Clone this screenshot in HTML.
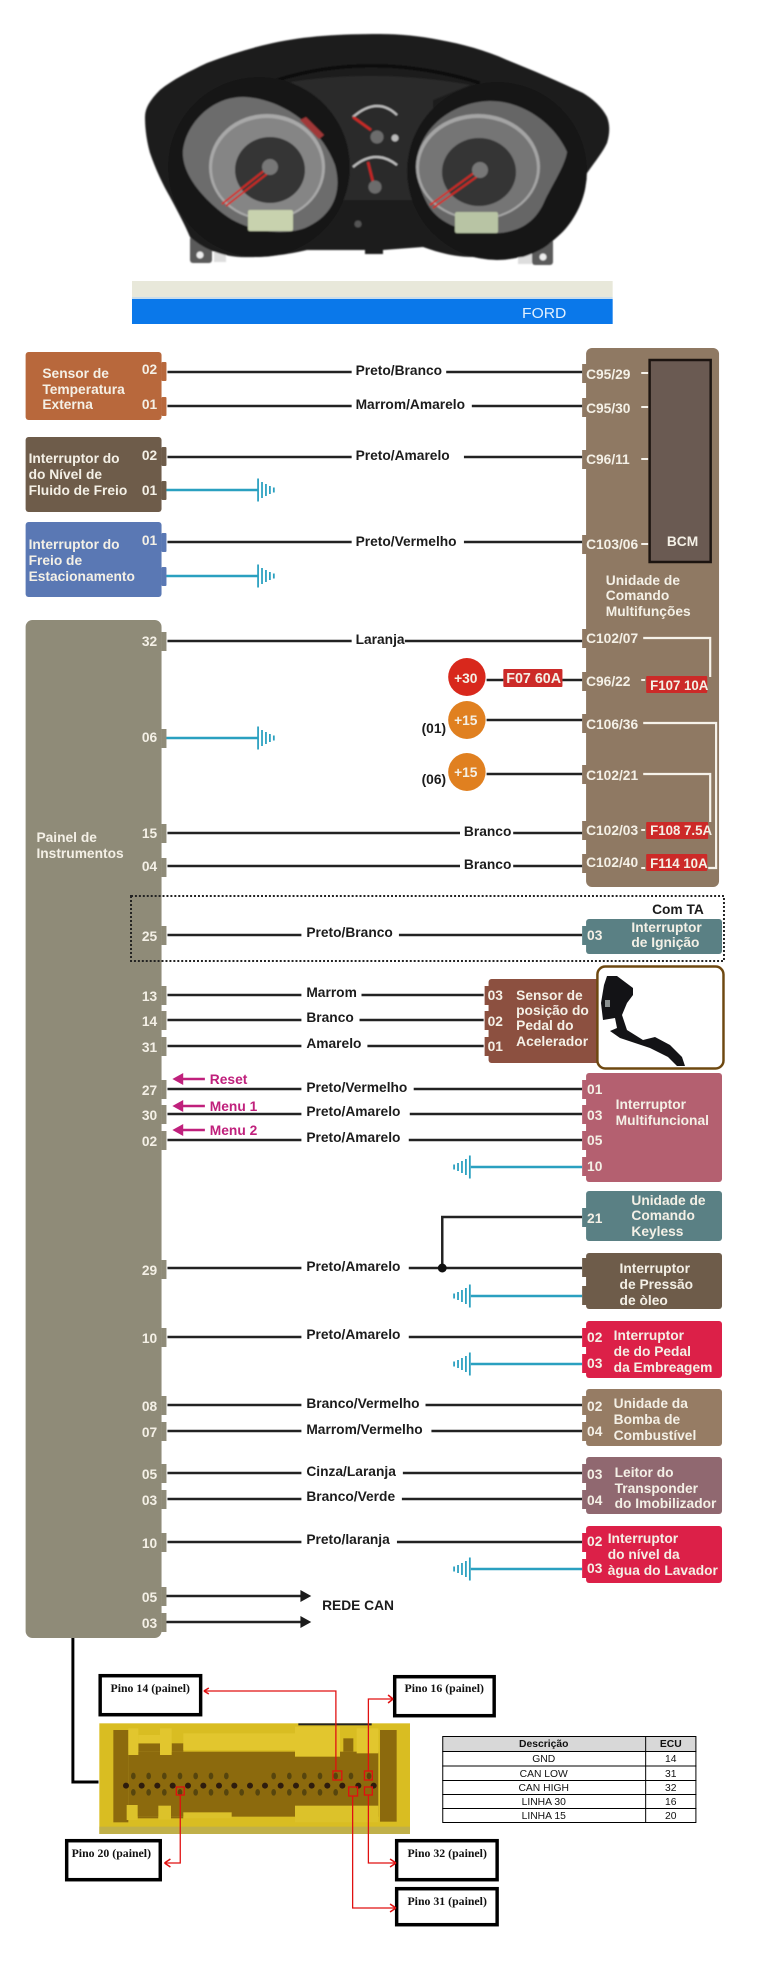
<!DOCTYPE html>
<html><head><meta charset="utf-8"><style>
html,body{margin:0;padding:0;background:#fff}
svg{display:block}
text{font-family:"Liberation Sans",sans-serif;font-weight:bold}
.l{font-size:14px;fill:#1c1c1c}
.w{font-size:14px;fill:#f4f0e6}
.m{font-size:14px;fill:#c0207c}
.s{font-family:"Liberation Serif",serif;font-size:12px;fill:#111;text-anchor:middle}
.t{font-size:10.5px;font-weight:normal;fill:#111;text-anchor:middle}
.wire{stroke:#222;stroke-width:2.5;fill:none}
.gw{stroke:#2aa0c0;stroke-width:2.5;fill:none}
.wh{stroke:#f6f2ea;stroke-width:2.2;fill:none}
.rd{stroke:#e01010;stroke-width:1.3;fill:none}
</style></head><body>
<svg width="760" height="1963" viewBox="0 0 760 1963" xmlns="http://www.w3.org/2000/svg">
<defs>
<filter id="b"><feGaussianBlur stdDeviation="0.7"/></filter>
<g id="gr"><path d="M0-11.5V11.5M4-8V8M8-6V6M12-4V4M16-2.5V2.5" stroke="#2aa0c0" stroke-width="1.8" fill="none"/></g>
<g id="gl"><path d="M0-11.5V11.5M-4-8V8M-8-6V6M-12-4V4M-16-2.5V2.5" stroke="#2aa0c0" stroke-width="1.8" fill="none"/></g>
</defs>
<rect width="760" height="1963" fill="#fff"/>

<!-- cluster (true coordinates) -->
<g filter="url(#b)">
<rect x="190" y="236" width="22" height="27" rx="3" fill="#5a5a5a"/><circle cx="200" cy="255" r="3.5" fill="#eee"/>
<rect x="532" y="238" width="21" height="27" rx="3" fill="#5a5a5a"/><circle cx="543" cy="257" r="3.5" fill="#eee"/>
<rect x="214" y="252" width="12" height="10" fill="#ddd"/><rect x="518" y="254" width="14" height="10" fill="#ddd"/>
<path d="M380 34C340 34 305 36 273 43C250 48 228 55 207 63C190 71 172 80 160 90C150 100 145 108 145 117C145 130 147 142 150 153C156 170 162 183 170 197C178 212 185 225 190 237C205 250 222 256 240 257C265 258 290 254 307 250L365 250V254H383V250L423 247C440 253 455 257 473 257C490 259 510 258 523 257C535 253 545 248 550 243C558 228 565 212 573 197C585 172 600 158 607 143C610 133 610 125 607 117C602 107 593 99 583 93C560 82 532 70 507 60C485 50 462 44 440 40C420 36 400 34 380 34Z" fill="#1f1f1f"/>
<path d="M277 80Q373 50 480 83" stroke="#0e0e0e" stroke-width="4" fill="none"/>
<path d="M285 83Q373 68 470 85L433 100V200H320V100Z" fill="#2b2b2b"/>
<!-- left dial -->
<ellipse cx="259" cy="167" rx="91" ry="90" fill="#151515"/>
<path d="M183 150C186 125 210 97 243 97C280 98 320 125 335 165C342 190 335 215 305 228C280 237 245 230 225 215C205 200 181 175 183 150Z" fill="#6c6c6c"/>
<ellipse cx="267" cy="167" rx="58" ry="53" fill="#a8a8a8"/>
<ellipse cx="267" cy="168" rx="55" ry="50" fill="#858585"/>
<ellipse cx="270" cy="170" rx="35" ry="33" fill="#363636"/>
<path d="M300 120L306 117L324 135L319 139Z" fill="#a03838"/>
<path d="M265 170L222 204M268 173L226 206" stroke="#d42820" stroke-width="1.8"/>
<circle cx="270" cy="167" r="8" fill="#777"/>
<rect x="248" y="210" width="45" height="21" rx="2" fill="#c8d2ae"/>
<!-- right dial -->
<ellipse cx="497" cy="171" rx="90" ry="89" fill="#151515"/>
<path d="M417 160C420 130 450 102 490 101C525 101 555 125 567 152C565 165 555 180 545 200C535 225 515 233 495 233C465 233 440 225 428 205C420 190 415 175 417 160Z" fill="#666"/>
<ellipse cx="478" cy="167" rx="62" ry="53" fill="#a4a4a4"/>
<ellipse cx="478" cy="168" rx="59" ry="50" fill="#747474"/>
<ellipse cx="479" cy="172" rx="37" ry="34" fill="#363636"/>
<path d="M478 170L430 205M482 173L433 208" stroke="#d42820" stroke-width="1.8"/>
<circle cx="480" cy="170" r="8" fill="#777"/>
<rect x="455" y="212" width="43" height="21" rx="2" fill="#b8c4a4"/>
<!-- centre gauges -->
<path d="M353 117Q377 96 397 115" stroke="#bdbdbd" stroke-width="2.2" fill="none"/>
<path d="M353 117L371 130" stroke="#cc2a28" stroke-width="2.5"/>
<path d="M353 167Q375 148 397 165" stroke="#bdbdbd" stroke-width="2.2" fill="none"/>
<path d="M368 162L373 182" stroke="#c82828" stroke-width="2.5"/>
<circle cx="377" cy="137" r="6.5" fill="#6c6c6c"/><circle cx="375" cy="187" r="6.5" fill="#6c6c6c"/>
<circle cx="395" cy="138" r="3.5" fill="#bbb"/>
<circle cx="358" cy="224" r="3.5" fill="#555"/>
</g>

<!-- connector image (true coordinates) -->
<g transform="translate(95 1715) scale(.33333)" filter="url(#b)">
<rect x="13" y="25" width="932" height="332" fill="#d9bd22"/>
<rect x="610" y="25" width="220" height="6" fill="#222"/>
<rect x="13" y="335" width="932" height="22" fill="#c0b048"/>
<g fill="#8c6a10">
<rect x="55" y="45" width="45" height="277"/><rect x="100" y="110" width="750" height="195"/>
<rect x="130" y="85" width="65" height="25"/><rect x="230" y="85" width="35" height="25"/><rect x="745" y="70" width="30" height="40"/>
<rect x="855" y="45" width="50" height="275"/><rect x="128" y="305" width="62" height="5"/><rect x="228" y="305" width="37" height="5"/>
</g>
<g fill="#dcc22c">
<rect x="95" y="270" width="33" height="45"/><rect x="190" y="272" width="38" height="42"/><rect x="265" y="292" width="145" height="18"/><rect x="600" y="272" width="250" height="50"/>
</g>
<g fill="#2e1f08">
<circle cx="93" cy="212" r="9"/><circle cx="140" cy="212" r="9"/><circle cx="187" cy="212" r="9"/><circle cx="233" cy="212" r="9"/><circle cx="279" cy="212" r="9"/><circle cx="325" cy="212" r="9"/><circle cx="372" cy="212" r="9"/><circle cx="418" cy="212" r="9"/><circle cx="465" cy="212" r="9"/><circle cx="510" cy="212" r="9"/><circle cx="557" cy="212" r="9"/><circle cx="603" cy="212" r="9"/><circle cx="650" cy="212" r="9"/><circle cx="697" cy="212" r="9"/><circle cx="742" cy="212" r="9"/><circle cx="790" cy="212" r="9"/><circle cx="836" cy="212" r="9"/>
</g>
<g fill="#574410">
<ellipse cx="115" cy="183" rx="7" ry="10"/><ellipse cx="161" cy="183" rx="7" ry="10"/><ellipse cx="208" cy="183" rx="7" ry="10"/><ellipse cx="255" cy="183" rx="7" ry="10"/><ellipse cx="302" cy="183" rx="7" ry="10"/><ellipse cx="348" cy="183" rx="7" ry="10"/><ellipse cx="394" cy="183" rx="7" ry="10"/><ellipse cx="536" cy="183" rx="7" ry="10"/><ellipse cx="583" cy="183" rx="7" ry="10"/><ellipse cx="628" cy="183" rx="7" ry="10"/><ellipse cx="675" cy="183" rx="7" ry="10"/><ellipse cx="722" cy="183" rx="7" ry="10"/><ellipse cx="768" cy="183" rx="7" ry="10"/><ellipse cx="822" cy="183" rx="7" ry="10"/>
<ellipse cx="115" cy="232" rx="7" ry="10"/><ellipse cx="161" cy="232" rx="7" ry="10"/><ellipse cx="208" cy="232" rx="7" ry="10"/><ellipse cx="255" cy="232" rx="7" ry="10"/><ellipse cx="302" cy="232" rx="7" ry="10"/><ellipse cx="348" cy="232" rx="7" ry="10"/><ellipse cx="394" cy="232" rx="7" ry="10"/><ellipse cx="440" cy="232" rx="7" ry="10"/><ellipse cx="488" cy="232" rx="7" ry="10"/><ellipse cx="536" cy="232" rx="7" ry="10"/><ellipse cx="583" cy="232" rx="7" ry="10"/><ellipse cx="628" cy="232" rx="7" ry="10"/><ellipse cx="675" cy="232" rx="7" ry="10"/><ellipse cx="722" cy="232" rx="7" ry="10"/>
</g>
<g fill="#e2c62e">
<rect x="100" y="40" width="30" height="80"/><rect x="130" y="60" width="65" height="25"/><rect x="195" y="40" width="35" height="80"/><rect x="265" y="55" width="335" height="50"/><rect x="600" y="35" width="135" height="90"/><rect x="785" y="40" width="65" height="75"/>
</g>
</g>

<g transform="scale(.985 1)">
<!-- bars -->
<rect x="134" y="281" width="488" height="16" fill="#e8e8da"/>
<rect x="134" y="297" width="488" height="2" fill="#c8dcec"/>
<rect x="134" y="299" width="488" height="25" fill="#0a78ea"/>
<text x="530" y="318" textLength="45" lengthAdjust="spacingAndGlyphs" style="font-weight:normal;font-size:15px" fill="#e0f0ff">FORD</text>

<!-- BCM unit -->
<rect x="595" y="348" width="135" height="539" rx="6" fill="#8f7963"/>
<g fill="#8f7963">
<rect x="591" y="364" width="6" height="19"/><rect x="591" y="398" width="6" height="19"/><rect x="591" y="450" width="6" height="19"/><rect x="591" y="535" width="6" height="19"/>
<rect x="591" y="629" width="6" height="19"/><rect x="591" y="672" width="6" height="19"/><rect x="591" y="714" width="6" height="19"/><rect x="591" y="765" width="6" height="19"/><rect x="591" y="821" width="6" height="19"/><rect x="591" y="854" width="6" height="19"/>
</g>
<rect x="659.5" y="360" width="62" height="202" fill="#6a5a52" stroke="#1c1410" stroke-width="2.5"/>
<path d="M651 373h7M651 407h7M651 459h7M651 544h7M651 680h4M651 830h4M651 868h4" stroke="#f6f2ea" stroke-width="2"/>
<path class="wh" d="M653 638H721V677M653 723H727V868H719M653 774H721V822"/>
<g fill="#cc2a28">
<rect x="656" y="676" width="62" height="17" rx="1"/><rect x="656" y="822" width="63" height="17" rx="1"/><rect x="656" y="854" width="62" height="17" rx="1"/><rect x="511" y="669" width="60" height="18" rx="1"/>
</g>
<text class="w" style="font-size:13.5px" x="660" y="690">F107 10A</text>
<text class="w" style="font-size:13.5px" x="660" y="835">F108 7.5A</text>
<text class="w" style="font-size:13.5px" x="660" y="868">F114 10A</text>
<text class="w" style="font-size:14.5px" x="514" y="683">F07 60A</text>
<text class="w" x="595" y="379">C95/29</text><text class="w" x="595" y="413">C95/30</text><text class="w" x="595" y="464">C96/11</text><text class="w" x="595" y="549">C103/06</text>
<text class="w" x="595" y="643">C102/07</text><text class="w" x="595" y="686">C96/22</text><text class="w" x="595" y="729">C106/36</text><text class="w" x="595" y="780">C102/21</text><text class="w" x="595" y="835">C102/03</text><text class="w" x="595" y="867">C102/40</text>
<text class="w" x="677" y="546">BCM</text>
<text class="w" x="615" y="585">Unidade de</text><text class="w" x="615" y="600">Comando</text><text class="w" x="615" y="616">Multifunções</text>

<!-- left blocks -->
<rect x="26" y="352" width="138" height="68" rx="3" fill="#b8683c"/>
<rect x="164" y="362" width="5" height="19" rx="1" fill="#b8683c"/><rect x="164" y="397" width="5" height="19" rx="1" fill="#b8683c"/>
<text class="w" x="43" y="378">Sensor de</text><text class="w" x="43" y="394">Temperatura</text><text class="w" x="43" y="409">Externa</text>
<text class="w" x="144" y="374">02</text><text class="w" x="144" y="409">01</text>

<rect x="26" y="437" width="138" height="75" rx="3" fill="#6e5c4a"/>
<rect x="164" y="447" width="5" height="19" rx="1" fill="#6e5c4a"/><rect x="164" y="481" width="5" height="19" rx="1" fill="#6e5c4a"/>
<text class="w" x="29" y="463">Interruptor do</text><text class="w" x="29" y="479">do Nível de</text><text class="w" x="29" y="495">Fluido de Freio</text>
<text class="w" x="144" y="460">02</text><text class="w" x="144" y="495">01</text>

<rect x="26" y="522" width="138" height="75" rx="3" fill="#5a78b4"/>
<rect x="164" y="533" width="5" height="19" rx="1" fill="#5a78b4"/><rect x="164" y="567" width="5" height="19" rx="1" fill="#5a78b4"/>
<text class="w" x="29" y="549">Interruptor do</text><text class="w" x="29" y="565">Freio de</text><text class="w" x="29" y="581">Estacionamento</text>
<text class="w" x="144" y="545">01</text>

<!-- panel -->
<rect x="26" y="620" width="138" height="1018" rx="7" fill="#8f8b78"/>
<g fill="#8f8b78">
<rect x="164" y="632" width="5" height="19"/><rect x="164" y="729" width="5" height="19"/><rect x="164" y="824" width="5" height="19"/><rect x="164" y="858" width="5" height="19"/>
<rect x="164" y="926" width="5" height="19"/><rect x="164" y="986" width="5" height="19"/><rect x="164" y="1011" width="5" height="19"/><rect x="164" y="1037" width="5" height="19"/>
<rect x="164" y="1080" width="5" height="19"/><rect x="164" y="1105" width="5" height="19"/><rect x="164" y="1131" width="5" height="19"/>
<rect x="164" y="1260" width="5" height="19"/><rect x="164" y="1328" width="5" height="19"/><rect x="164" y="1396" width="5" height="19"/><rect x="164" y="1422" width="5" height="19"/>
<rect x="164" y="1464" width="5" height="19"/><rect x="164" y="1490" width="5" height="19"/><rect x="164" y="1533" width="5" height="19"/><rect x="164" y="1587" width="5" height="19"/><rect x="164" y="1613" width="5" height="19"/>
</g>
<text class="w" x="37" y="842">Painel de</text><text class="w" x="37" y="858">Instrumentos</text>
<text class="w" x="144" y="646">32</text><text class="w" x="144" y="742">06</text><text class="w" x="144" y="838">15</text><text class="w" x="144" y="871">04</text>
<text class="w" x="144" y="941">25</text><text class="w" x="144" y="1001">13</text><text class="w" x="144" y="1026">14</text><text class="w" x="144" y="1052">31</text>
<text class="w" x="144" y="1095">27</text><text class="w" x="144" y="1120">30</text><text class="w" x="144" y="1146">02</text>
<text class="w" x="144" y="1275">29</text><text class="w" x="144" y="1343">10</text><text class="w" x="144" y="1411">08</text><text class="w" x="144" y="1437">07</text>
<text class="w" x="144" y="1479">05</text><text class="w" x="144" y="1505">03</text><text class="w" x="144" y="1548">10</text><text class="w" x="144" y="1602">05</text><text class="w" x="144" y="1628">03</text>

<!-- wires -->
<g class="wire">
<path d="M170 372H357M453 372H591M170 406H357M479 406H591M170 457H357M471 457H591M170 542H357M471 542H591"/>
<path d="M170 641H357M411 641H591M494 680H511M571 680H591M494 720H591M494 774H591M170 833H467M521 833H591M170 866H467M521 866H591"/>
<path d="M170 935H306M405 935H591M170 995H306M367 995H491M170 1020H306M365 1020H491M170 1046H306M373 1046H491"/>
<path d="M170 1089H306M420 1089H591M170 1114H306M416 1114H591M170 1140H306M415 1140H591"/>
<path d="M170 1268H306M415 1268H591M449 1268V1217H591M170 1337H306M415 1337H591"/>
<path d="M170 1405H306M432 1405H591M170 1431H306M438 1431H591M170 1473H306M409 1473H591M170 1499H306M408 1499H591M170 1542H306M403 1542H591"/>
<path d="M169 1596H308M169 1622H308"/>
</g>
<circle cx="449" cy="1268" r="4.5" fill="#111"/>
<path d="M305 1590L316 1596L305 1602ZM305 1616L316 1622L305 1628Z" fill="#1c1c1c"/>
<g class="gw">
<path d="M169 490H262M169 576H262M169 738H262M478 1167H591M478 1296H591M478 1364H591M478 1569H591"/>
</g>
<use href="#gr" x="262" y="490"/><use href="#gr" x="262" y="576"/><use href="#gr" x="262" y="738"/>
<use href="#gl" x="477" y="1167"/><use href="#gl" x="477" y="1296"/><use href="#gl" x="477" y="1364"/><use href="#gl" x="477" y="1569"/>

<!-- wire labels -->
<text class="l" x="361" y="375">Preto/Branco</text>
<text class="l" x="361" y="409">Marrom/Amarelo</text>
<text class="l" x="361" y="460">Preto/Amarelo</text>
<text class="l" x="361" y="546">Preto/Vermelho</text>
<text class="l" x="361" y="644">Laranja</text>
<text class="l" x="471" y="836">Branco</text>
<text class="l" x="471" y="869">Branco</text>
<text class="l" x="311" y="937">Preto/Branco</text>
<text class="l" x="311" y="997">Marrom</text>
<text class="l" x="311" y="1022">Branco</text>
<text class="l" x="311" y="1048">Amarelo</text>
<text class="l" x="311" y="1092">Preto/Vermelho</text>
<text class="l" x="311" y="1116">Preto/Amarelo</text>
<text class="l" x="311" y="1142">Preto/Amarelo</text>
<text class="l" x="311" y="1271">Preto/Amarelo</text>
<text class="l" x="311" y="1339">Preto/Amarelo</text>
<text class="l" x="311" y="1408">Branco/Vermelho</text>
<text class="l" x="311" y="1434">Marrom/Vermelho</text>
<text class="l" x="311" y="1476">Cinza/Laranja</text>
<text class="l" x="311" y="1501">Branco/Verde</text>
<text class="l" x="311" y="1544">Preto/laranja</text>
<text class="l" x="327" y="1610">REDE CAN</text>

<!-- power circles -->
<circle cx="474" cy="677" r="19" fill="#d8281c"/><circle cx="474" cy="720" r="19" fill="#e08020"/><circle cx="474" cy="772" r="19" fill="#e08020"/>
<text class="w" x="461" y="683">+30</text><text class="w" x="461" y="725">+15</text><text class="w" x="461" y="777">+15</text>
<text class="l" x="428" y="733">(01)</text><text class="l" x="428" y="784">(06)</text>

<!-- com TA -->
<rect x="133" y="896" width="602" height="65" fill="none" stroke="#222" stroke-width="2" stroke-dasharray="2 2"/>
<text class="l" x="662" y="914">Com TA</text>
<rect x="595" y="919" width="138" height="35" rx="3" fill="#5a8084"/><rect x="591" y="926" width="6" height="19" fill="#5a8084"/>
<text class="w" x="596" y="940">03</text><text class="w" x="641" y="932">Interruptor</text><text class="w" x="641" y="947">de Ignição</text>

<!-- accelerator -->
<rect x="496" y="979" width="118" height="84" rx="3" fill="#8c5040"/>
<g fill="#8c5040"><rect x="492" y="986" width="6" height="19"/><rect x="492" y="1011" width="6" height="19"/><rect x="492" y="1037" width="6" height="19"/></g>
<text class="w" x="495" y="1000">03</text><text class="w" x="495" y="1026">02</text><text class="w" x="495" y="1051">01</text>
<text class="w" x="524" y="1000">Sensor de</text><text class="w" x="524" y="1015">posição do</text><text class="w" x="524" y="1030">Pedal do</text><text class="w" x="524" y="1046">Acelerador</text>
<rect x="606.5" y="966.5" width="128" height="102" rx="8" fill="#fff" stroke="#6e4810" stroke-width="2.5"/>

<!-- multifunctional -->
<rect x="595" y="1073" width="138" height="109" rx="3" fill="#b46070"/>
<g fill="#b46070"><rect x="591" y="1080" width="6" height="19"/><rect x="591" y="1105" width="6" height="19"/><rect x="591" y="1131" width="6" height="19"/><rect x="591" y="1157" width="6" height="19"/></g>
<text class="w" x="596" y="1094">01</text><text class="w" x="596" y="1120">03</text><text class="w" x="596" y="1145">05</text><text class="w" x="596" y="1171">10</text>
<text class="w" x="625" y="1109">Interruptor</text><text class="w" x="625" y="1125">Multifuncional</text>
<path d="M208 1079H183M208 1106H183M208 1130H183" stroke="#c0207c" stroke-width="2.5"/>
<path d="M175 1079L186 1073V1085ZM175 1106L186 1100V1112ZM175 1130L186 1124V1136Z" fill="#c0207c"/>
<text class="m" x="213" y="1084">Reset</text><text class="m" x="213" y="1111">Menu 1</text><text class="m" x="213" y="1135">Menu 2</text>

<!-- keyless -->
<rect x="595" y="1191" width="138" height="50" rx="3" fill="#5a8084"/><rect x="591" y="1208" width="6" height="19" fill="#5a8084"/>
<text class="w" x="596" y="1223">21</text><text class="w" x="641" y="1205">Unidade de</text><text class="w" x="641" y="1220">Comando</text><text class="w" x="641" y="1236">Keyless</text>

<!-- oil -->
<rect x="595" y="1253" width="138" height="56" rx="3" fill="#6e5c4a"/><rect x="591" y="1258" width="6" height="19" fill="#6e5c4a"/><rect x="591" y="1286" width="6" height="19" fill="#6e5c4a"/>
<text class="w" x="629" y="1273">Interruptor</text><text class="w" x="629" y="1289">de Pressão</text><text class="w" x="629" y="1305">de òleo</text>

<!-- clutch -->
<rect x="595" y="1321" width="138" height="57" rx="3" fill="#dc2048"/><rect x="591" y="1328" width="6" height="19" fill="#dc2048"/><rect x="591" y="1354" width="6" height="19" fill="#dc2048"/>
<text class="w" x="596" y="1342">02</text><text class="w" x="596" y="1368">03</text>
<text class="w" x="623" y="1340">Interruptor</text><text class="w" x="623" y="1356">de do Pedal</text><text class="w" x="623" y="1372">da Embreagem</text>

<!-- pump -->
<rect x="595" y="1389" width="138" height="57" rx="3" fill="#967c64"/><rect x="591" y="1396" width="6" height="19" fill="#967c64"/><rect x="591" y="1422" width="6" height="19" fill="#967c64"/>
<text class="w" x="596" y="1411">02</text><text class="w" x="596" y="1436">04</text>
<text class="w" x="623" y="1408">Unidade da</text><text class="w" x="623" y="1424">Bomba de</text><text class="w" x="623" y="1440">Combustível</text>

<!-- transponder -->
<rect x="595" y="1457" width="138" height="57" rx="3" fill="#906870"/><rect x="591" y="1464" width="6" height="19" fill="#906870"/><rect x="591" y="1490" width="6" height="19" fill="#906870"/>
<text class="w" x="596" y="1479">03</text><text class="w" x="596" y="1505">04</text>
<text class="w" x="624" y="1477">Leitor do</text><text class="w" x="624" y="1493">Transponder</text><text class="w" x="624" y="1508">do Imobilizador</text>

<!-- washer -->
<rect x="595" y="1526" width="138" height="57" rx="3" fill="#dc2048"/><rect x="591" y="1533" width="6" height="19" fill="#dc2048"/><rect x="591" y="1559" width="6" height="19" fill="#dc2048"/>
<text class="w" x="596" y="1546">02</text><text class="w" x="596" y="1573">03</text>
<text class="w" x="617" y="1543">Interruptor</text><text class="w" x="617" y="1559">do nível da</text><text class="w" x="617" y="1575">àgua do Lavador</text>

<!-- connector link + pin boxes -->
<path d="M74 1638V1782H100" stroke="#000" stroke-width="3" fill="none"/>
<g fill="#fff" stroke="#000" stroke-width="3.5">
<rect x="101.7" y="1675.7" width="102" height="39"/>
<rect x="400.7" y="1676.7" width="101" height="39"/>
<rect x="67.7" y="1840.7" width="95" height="39"/>
<rect x="402.7" y="1840.7" width="102" height="39"/>
<rect x="402.7" y="1888.7" width="102" height="36"/>
</g>
<text class="s" x="152.5" y="1692">Pino 14 (painel)</text>
<text class="s" x="451" y="1692">Pino 16 (painel)</text>
<text class="s" x="113" y="1857">Pino 20 (painel)</text>
<text class="s" x="454" y="1857">Pino 32 (painel)</text>
<text class="s" x="454" y="1905">Pino 31 (painel)</text>

<!-- red callouts -->
<g class="rd">
<rect x="338" y="1771" width="9" height="9"/><rect x="370" y="1771" width="8" height="9"/><rect x="179" y="1787" width="8" height="8"/><rect x="354" y="1787" width="9" height="9"/><rect x="370" y="1787" width="8" height="8"/>
<path d="M341 1771V1691H208M374 1771V1699H398M183 1795V1863H168M374 1795V1863H401M358 1796V1908H401"/>
</g>
<path d="M207 1691l5-3M207 1691l5 3M399 1699l-5-4M399 1699l-5 4M167 1863l6-4M167 1863l6 4M402 1863l-6-4M402 1863l-6 4M402 1908l-6-4M402 1908l-6 4" stroke="#e01010" stroke-width="1.6" fill="none"/>

<!-- table -->
<rect x="449" y="1736" width="258" height="15" fill="#d8d8d8"/>
<g stroke="#000" stroke-width="1" fill="none">
<rect x="449.5" y="1736.5" width="257" height="86"/>
<path d="M449 1751.5H707M449 1766H707M449 1780.5H707M449 1794.5H707M449 1808.5H707M655.5 1736V1823"/>
</g>
<text class="t" style="font-weight:bold" x="552" y="1747">Descrição</text><text class="t" style="font-weight:bold" x="681" y="1747">ECU</text>
<text class="t" x="552" y="1762">GND</text><text class="t" x="681" y="1762">14</text>
<text class="t" x="552" y="1777">CAN LOW</text><text class="t" x="681" y="1777">31</text>
<text class="t" x="552" y="1791">CAN HIGH</text><text class="t" x="681" y="1791">32</text>
<text class="t" x="552" y="1805">LINHA 30</text><text class="t" x="681" y="1805">16</text>
<text class="t" x="552" y="1819">LINHA 15</text><text class="t" x="681" y="1819">20</text>
</g>

<!-- pedal (true coordinates) -->
<path d="M607 976L617 976L633 988L633 995L627 1003L622 1015L627 1030L643 1040L655 1037L670 1045L682 1057L685 1066L677 1066L668 1057L650 1048L635 1043L620 1038L610 1031L617 1028L615 1018L603 1020L601 1003L604 985Z" fill="#131316"/>
<rect x="605" y="1000" width="5" height="7" fill="#8a9090"/>
</svg>
</body></html>
